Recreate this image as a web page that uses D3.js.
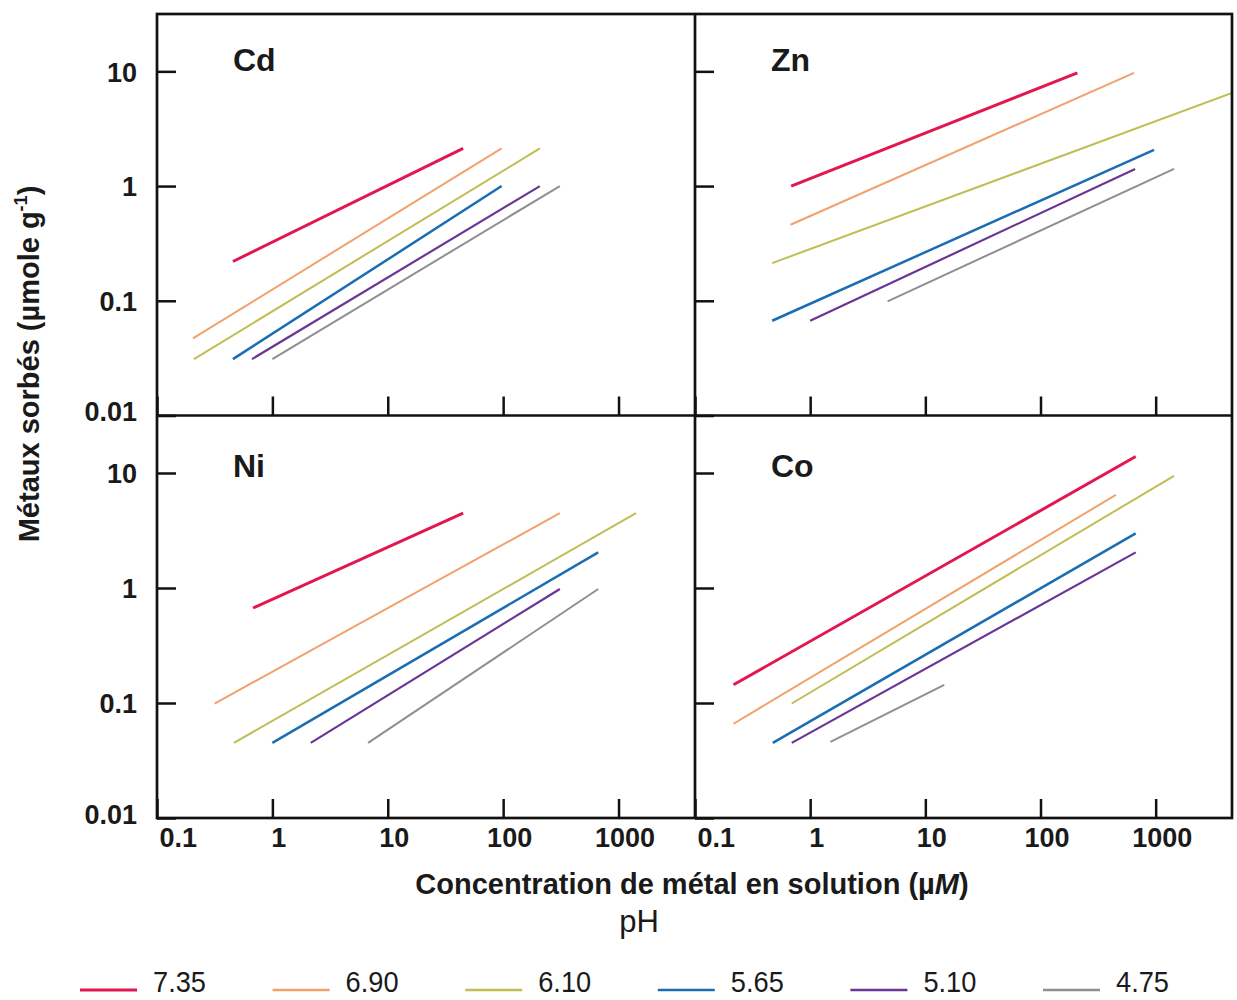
<!DOCTYPE html>
<html>
<head>
<meta charset="utf-8">
<script src="https://cdn.jsdelivr.net/npm/d3@7"></script>
<style>
  html, body { margin: 0; padding: 0; background: #fff; }
  svg { display: block; }
  text { font-family: "Liberation Sans", Arial, Helvetica, sans-serif; fill: #1a1a1a; }
</style>
</head>
<body>
<svg id="chart" width="1237" height="1000"></svg>
<script>
// pH series shown in every panel
const phLabels = ["7.35", "6.90", "6.10", "5.65", "5.10", "4.75"];
const phColors = ["#e3174f", "#f2a16e", "#c0bd55", "#1b6db3", "#6a3594", "#8f8f8f"];
const phWidths = [3, 2, 2, 2.5, 2.2, 2];

// Each fitted isotherm: [C start, q start, C end, q end] (µM, µmole/g), one row per pH
const cdLines = [
  [0.455, 0.22, 45, 2.13],
  [0.205, 0.047, 97, 2.13],
  [0.209, 0.031, 208, 2.13],
  [0.455, 0.031, 97, 1.0],
  [0.665, 0.031, 208, 1.0],
  [1.0, 0.031, 310, 1.0]
];
const znLines = [
  [0.684, 1.0, 209, 9.7],
  [0.675, 0.46, 650, 9.7],
  [0.468, 0.213, 4600, 6.5],
  [0.468, 0.067, 968, 2.07],
  [1.0, 0.067, 663, 1.41],
  [4.7, 0.099, 1445, 1.41]
];
const niLines = [
  [0.68, 0.67, 45, 4.47],
  [0.316, 0.099, 310, 4.47],
  [0.464, 0.045, 1416, 4.47],
  [1.0, 0.045, 667, 2.04],
  [2.15, 0.045, 310, 0.98],
  [6.75, 0.045, 667, 0.98]
];
const coLines = [
  [0.216, 0.144, 671, 13.9],
  [0.216, 0.066, 451, 6.45],
  [0.692, 0.099, 1445, 9.46],
  [0.474, 0.045, 671, 2.99],
  [0.692, 0.045, 671, 2.04],
  [1.5, 0.046, 14.6, 0.144]
];

const metals = ["Cd", "Zn", "Ni", "Co"];
const metalLines = [cdLines, znLines, niLines, coLines];

// axis ticks
const xTickValues = [0.1, 1, 10, 100, 1000];
const xTickLabels = ["0.1", "1", "10", "100", "1000"];
const yTickValues = [0.01, 0.1, 1, 10];
const yTickLabels = ["0.01", "0.1", "1", "10"];

const xDomain = [0.1, 4600];
const yDomain = [0.01, Math.pow(10, 1.5)];

const svg = d3.select("#chart");

// panel grid
const colEdges = [157, 695, 1232];
const rowEdges = [14, 415.5, 818];

const panels = metals.map((m, i) => {
  const col = i % 2, row = Math.floor(i / 2);
  return {
    name: m,
    lines: metalLines[i],
    col, row,
    x0: colEdges[col], x1: colEdges[col + 1],
    y0: rowEdges[row], y1: rowEdges[row + 1]
  };
});

const defs = svg.append("defs");

panels.forEach((p, i) => {
  const x = d3.scaleLog().domain(xDomain).range([p.x0, p.x1]);
  const y = d3.scaleLog().domain(yDomain).range([p.y1, p.y0]);

  defs.append("clipPath").attr("id", "clip" + i)
    .append("rect")
    .attr("x", p.x0).attr("y", p.y0)
    .attr("width", p.x1 - p.x0).attr("height", p.y1 - p.y0);

  const g = svg.append("g");

  // inward ticks on the left side
  const yAxis = d3.axisLeft(y)
    .tickValues(yTickValues)
    .tickSize(-19)
    .tickPadding(20)
    .tickFormat((d, k) => p.col === 0 ? yTickLabels[k] : "");
  const ya = g.append("g").attr("transform", `translate(${p.x0},0)`).call(yAxis);
  ya.select(".domain").remove();
  ya.selectAll(".tick line").attr("stroke", "#111").attr("stroke-width", 2.5);
  ya.selectAll(".tick text")
    .attr("font-size", 27).attr("font-weight", "bold")
    .attr("font-family", "Liberation Sans, Arial, sans-serif")
    .attr("fill", "#1a1a1a")
    .attr("dy", (d) => d === 0.01 ? "0.2em" : "0.36em");

  // inward ticks along the bottom side
  const xAxis = d3.axisBottom(x)
    .tickValues(xTickValues)
    .tickSize(-19)
    .tickPadding(10)
    .tickFormat((d, k) => p.row === 1 ? xTickLabels[k] : "");
  const xa = g.append("g").attr("transform", `translate(0,${p.y1})`).call(xAxis);
  xa.select(".domain").remove();
  xa.selectAll(".tick line").attr("stroke", "#111").attr("stroke-width", 2.5);
  xa.selectAll(".tick text")
    .attr("font-size", 27).attr("font-weight", "bold")
    .attr("font-family", "Liberation Sans, Arial, sans-serif")
    .attr("fill", "#1a1a1a")
    .attr("dy", "0.72em")
    .attr("text-anchor", (d) => d === 0.1 ? "start" : "middle")
    .attr("dx", (d) => d === 0.1 ? 2 : 6);

  // isotherm lines
  const lg = g.append("g").attr("clip-path", `url(#clip${i})`);
  lg.selectAll("line")
    .data(p.lines)
    .join("line")
    .attr("x1", (d) => x(d[0]))
    .attr("y1", (d) => y(d[1]))
    .attr("x2", (d) => x(d[2]))
    .attr("y2", (d) => y(d[3]))
    .attr("stroke", (d, k) => phColors[k])
    .attr("stroke-width", (d, k) => phWidths[k])
    .attr("stroke-linecap", "butt");

  // metal name
  g.append("text")
    .attr("x", p.x0 + 76)
    .attr("y", p.y0 + (p.row === 0 ? 57 : 61))
    .attr("font-size", 32)
    .attr("font-weight", "bold")
    .text(p.name);
});

// frame and dividers
const frame = svg.append("g").attr("fill", "none").attr("stroke", "#111").attr("stroke-width", 2.7);
frame.append("rect")
  .attr("x", colEdges[0]).attr("y", rowEdges[0])
  .attr("width", colEdges[2] - colEdges[0]).attr("height", rowEdges[2] - rowEdges[0]);
frame.append("line").attr("x1", colEdges[1]).attr("x2", colEdges[1]).attr("y1", rowEdges[0]).attr("y2", rowEdges[2]);
frame.append("line").attr("x1", colEdges[0]).attr("x2", colEdges[2]).attr("y1", rowEdges[1]).attr("y2", rowEdges[1]);

// y axis title
const yTitle = svg.append("text")
  .attr("transform", "translate(39,364) rotate(-90)")
  .attr("text-anchor", "middle")
  .attr("font-size", 29)
  .attr("font-weight", "bold");
yTitle.append("tspan").text("Métaux sorbés (µmole g");
yTitle.append("tspan").attr("font-size", 18).attr("dy", -12).text("-1");
yTitle.append("tspan").attr("dy", 12).text(")");

// x axis title
const xTitle = svg.append("text")
  .attr("x", 692).attr("y", 894)
  .attr("text-anchor", "middle")
  .attr("font-size", 29)
  .attr("font-weight", "bold");
xTitle.append("tspan").text("Concentration de métal en solution (µ");
xTitle.append("tspan").attr("font-style", "italic").text("M");
xTitle.append("tspan").text(")");

// legend
svg.append("text")
  .attr("x", 639).attr("y", 932)
  .attr("text-anchor", "middle")
  .attr("font-size", 31)
  .text("pH");

const legend = svg.append("g");
const legendX = d3.scaleLinear().domain([0, phLabels.length - 1]).range([80, 1043]);
phLabels.forEach((lab, k) => {
  const lx = legendX(k);
  legend.append("line")
    .attr("x1", lx).attr("x2", lx + 57)
    .attr("y1", 990).attr("y2", 990)
    .attr("stroke", phColors[k])
    .attr("stroke-width", k === 0 ? 3 : 2.5);
  legend.append("text")
    .attr("x", lx + 73).attr("y", 992)
    .attr("font-size", 29)
    .attr("textLength", 53)
    .attr("lengthAdjust", "spacingAndGlyphs")
    .text(lab);
});
</script>
</body>
</html>
